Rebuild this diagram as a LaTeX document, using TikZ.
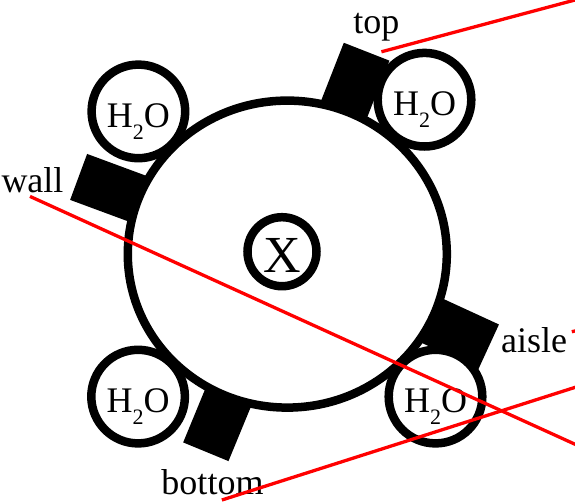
\documentclass[tikz,border=0pt]{standalone}
\usepackage{fontspec}
\setmainfont{Liberation Serif}
\usetikzlibrary{shapes.geometric}
\newcommand{\water}{H\raisebox{-12pt}{\fontsize{22}{22}\selectfont 2}O}
\tikzset{
    hub/.style={
        ellipse, draw=black, fill=white, line width=8.5pt,
        minimum width=319pt, minimum height=307pt, inner sep=0pt,
    },
    water/.style={
        circle, draw=black, fill=white, line width=8.5pt,
        minimum size=93.6pt, inner sep=0pt,
        text height=32pt, text depth=0pt, font=\fontsize{36}{40}\selectfont,
    },
    core/.style={
        circle, draw=black, fill=white, line width=8.5pt,
        minimum size=69pt, inner sep=0pt,
        text height=42pt, text depth=0pt, font=\fontsize{52}{56}\selectfont,
    },
    pad/.style={
        rectangle, fill=black, draw=none,
        minimum width=70pt, minimum height=49pt, inner sep=0pt,
    },
    tag/.style={anchor=base, inner sep=0pt, font=\fontsize{36}{40}\selectfont},
    lead/.style={draw=red, line width=3.3pt},
}

\begin{document}
\begin{tikzpicture}[x=1pt, y=1pt]

    \useasboundingbox (-287.3,-246.9) rectangle (287.7,254.1);
    \clip (-287.3,-246.9) rectangle (287.7,254.1);

    \node[pad, rotate=159.7] (wallpad) at (159.7:187.5) {};
    \node[pad, rotate=68.6] (toppad) at (68.6:182.4) {};
    \node[pad, rotate=-24.7] (aislepad) at (-24.7:186.7) {};
    \node[pad, rotate=-112.4] (bottompad) at (-112.4:178.8) {};

    \node[hub] (hub) at (0,0) {};
    \node[core] (core) at (-5.3,2.4) {X};

    \node[water] (h2onw) at (-148.9,142.7) {\water};
    \node[water] (h2one) at (137.2,154.4) {\water};
    \node[water] (h2osw) at (-149.2,-142.5) {\water};
    \node[water] (h2ose) at (148.2,-142.5) {\water};

    \node[tag] (toptag) at (89,220.8) {top};
    \node[tag] (walltag) at (-254.8,61.4) {wall};
    \node[tag] (aisletag) at (246.9,-97.9) {aisle};
    \node[tag] (bottomtag) at (-74.8,-240.4) {bottom};

    \coordinate (topfar) at (312.7,260.8);
    \coordinate (wallfar) at (312.7,-201.5);
    \coordinate (aislefar) at (298,-74.6);
    \coordinate (bottomfar) at (312.7,-125.3);

    \draw[lead] ([shift={(5.1,-18.5)}]toptag.base) -- (topfar);
    \draw[lead] ([shift={(-2.5,-3.7)}]walltag.base) -- (wallfar);
    \draw[lead] ([shift={(37.6,20.3)}]aisletag.base) -- (aislefar);
    \draw[lead] ([shift={(9.4,-5.5)}]bottomtag.base) -- (bottomfar);

\end{tikzpicture}
\end{document}
